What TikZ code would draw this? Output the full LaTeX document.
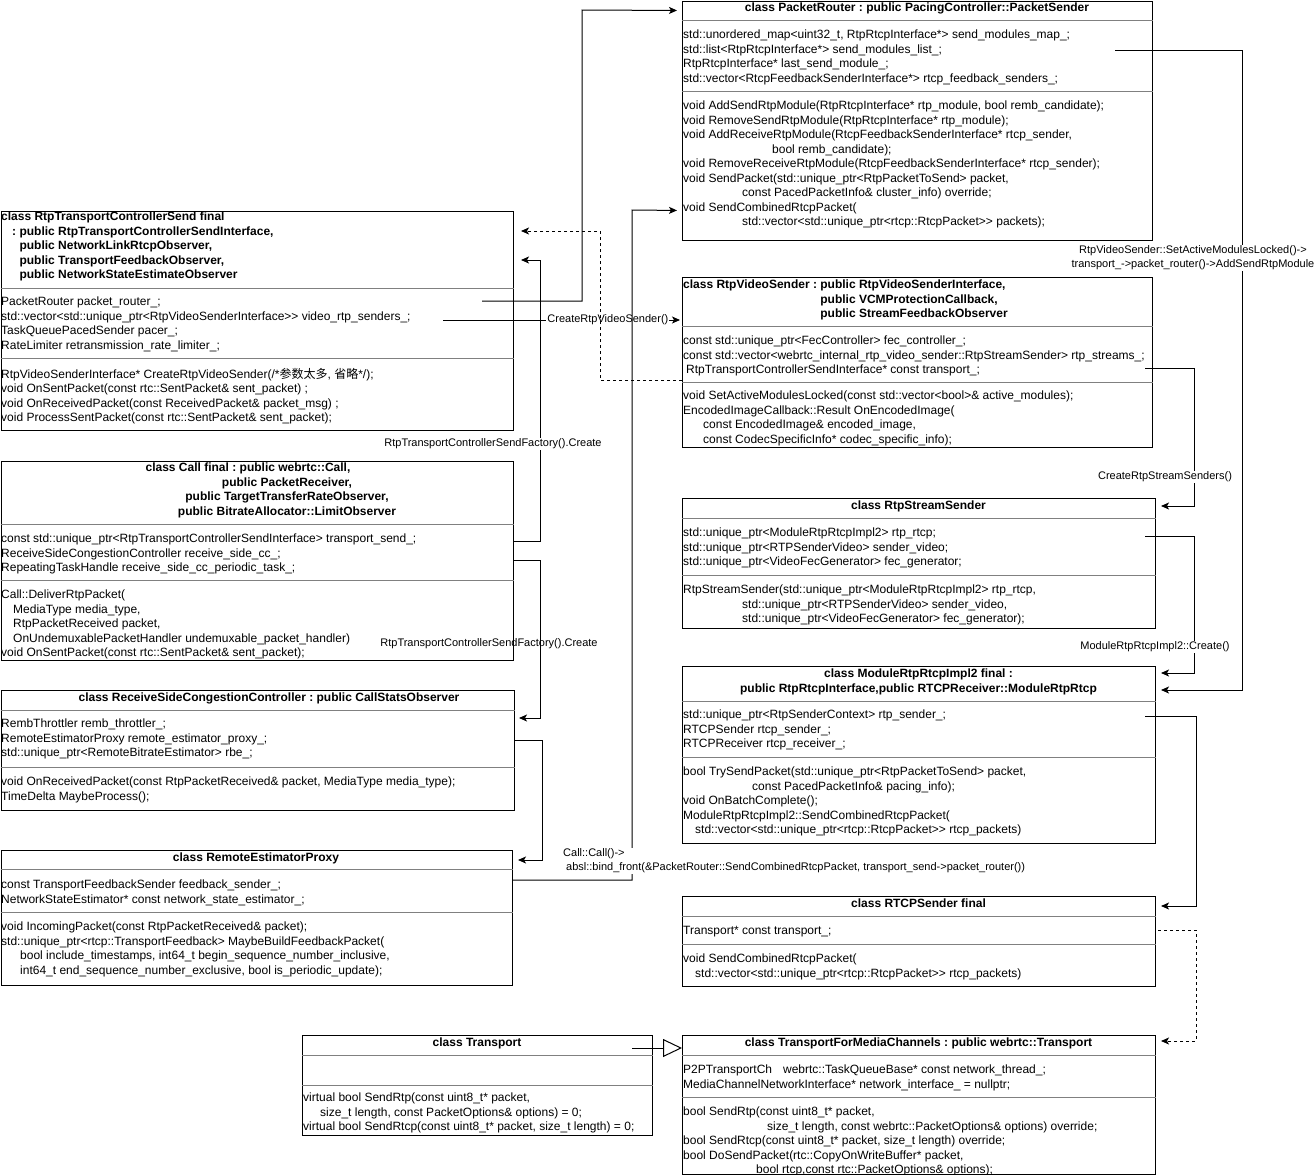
\documentclass[tikz,border=0pt]{standalone}
\usepackage{fontspec}
\setmainfont{Liberation Sans}
\newfontfamily\cjk{Noto Sans CJK SC}
\usetikzlibrary{arrows.meta,calc}
\frenchspacing
\newcommand{\gtgt}{>\kern0pt>}
\tikzset{
  classbox/.style={draw=black,line width=1pt,fill=white,anchor=north west,inner sep=0pt},
  sepline/.style={draw=black!50,line width=1pt},
  member/.style={anchor=north west,inner sep=0pt,align=left,yshift=-3pt,font=\fontsize{12}{14.5}\selectfont},
  headtext/.style={member,anchor=north,align=center,font=\bfseries\fontsize{12}{14.5}\selectfont},
  headleft/.style={headtext,anchor=north west,align=left},
  assoc/.style={-{Stealth[length=8pt,width=7pt,inset=2pt]},line width=1pt,draw=black,shorten >=5pt},
  assocdash/.style={assoc,dash pattern=on 3pt off 3pt},
  realize/.style={-{Triangle[open,length=19pt,width=18pt]},line width=1pt,draw=black},
  lbl/.style={font=\fontsize{11}{14}\selectfont,inner sep=1pt,align=center},
  lblbg/.style={lbl,fill=white}
}
\begin{document}
\begin{tikzpicture}[x=1pt,y=-1pt]
\fill[white] (0,0) rectangle (1315,1175);
\useasboundingbox (0,0) rectangle (1315,1175);

% left column
\node[classbox,minimum width=512.5pt,minimum height=219pt] (rtcs) at (0.5,211) {};
\draw[sepline] ($(rtcs.north west)+(0,77)$) -- ($(rtcs.north east)+(0,77)$);
\draw[sepline] ($(rtcs.north west)+(0,147)$) -- ($(rtcs.north east)+(0,147)$);
\node[headleft] (rtcsHead) at (1,209) {class RtpTransportControllerSend final\\
  \hspace*{11pt}: public RtpTransportControllerSendInterface,\\
  \hphantom{\hspace*{11pt}: }public NetworkLinkRtcpObserver,\\
  \hphantom{\hspace*{11pt}: }public TransportFeedbackObserver,\\
  \hphantom{\hspace*{11pt}: }public NetworkStateEstimateObserver};
\node[member] (rtcsAttr) at (1,294) {PacketRouter packet\_router\_;\\
  std::vector<std::unique\_ptr<RtpVideoSenderInterface\gtgt{} video\_rtp\_senders\_;\\
  TaskQueuePacedSender pacer\_;\\
  RateLimiter retransmission\_rate\_limiter\_;};
\node[member] (rtcsOps) at (1,365) {RtpVideoSenderInterface* CreateRtpVideoSender(/*{\cjk 参数太多}, {\cjk 省略}*/);\\
  void OnSentPacket(const rtc::SentPacket\& sent\_packet) ;\\
  void OnReceivedPacket(const ReceivedPacket\& packet\_msg) ;\\
  void ProcessSentPacket(const rtc::SentPacket\& sent\_packet);};

\node[classbox,minimum width=512.5pt,minimum height=199pt] (call) at (0.5,461) {};
\draw[sepline] ($(call.north west)+(0,63)$) -- ($(call.north east)+(0,63)$);
\draw[sepline] ($(call.north west)+(0,119)$) -- ($(call.north east)+(0,119)$);
\node[headtext] (callHead) at (287,460) {class Call final : public webrtc::Call,\hspace*{78pt}\\
  public PacketReceiver,\\
  public TargetTransferRateObserver,\\
  public BitrateAllocator::LimitObserver};
\node[member] (callAttr) at (1,531) {const std::unique\_ptr<RtpTransportControllerSendInterface> transport\_send\_;\\
  ReceiveSideCongestionController receive\_side\_cc\_;\\
  RepeatingTaskHandle receive\_side\_cc\_periodic\_task\_;};
\node[member] (callOps) at (1,587) {Call::DeliverRtpPacket(\\
  \hspace*{12pt}MediaType media\_type,\\
  \hspace*{12pt}RtpPacketReceived packet,\\
  \hspace*{12pt}OnUndemuxablePacketHandler undemuxable\_packet\_handler)\\
  void OnSentPacket(const rtc::SentPacket\& sent\_packet);};

\node[classbox,minimum width=513.5pt,minimum height=120pt] (rscc) at (0.5,690) {};
\draw[sepline] ($(rscc.north west)+(0,20)$) -- ($(rscc.north east)+(0,20)$);
\draw[sepline] ($(rscc.north west)+(0,77)$) -- ($(rscc.north east)+(0,77)$);
\node[headtext] (rsccHead) at (269,690) {class ReceiveSideCongestionController : public CallStatsObserver};
\node[member] (rsccAttr) at (1,716) {RembThrottler remb\_throttler\_;\\
  RemoteEstimatorProxy remote\_estimator\_proxy\_;\\
  std::unique\_ptr<RemoteBitrateEstimator> rbe\_;};
\node[member] (rsccOps) at (1,774) {void OnReceivedPacket(const RtpPacketReceived\& packet, MediaType media\_type);\\
  TimeDelta MaybeProcess();};

\node[classbox,minimum width=511.5pt,minimum height=135pt] (rep) at (0.5,850) {};
\draw[sepline] ($(rep.north west)+(0,19)$) -- ($(rep.north east)+(0,19)$);
\draw[sepline] ($(rep.north west)+(0,62)$) -- ($(rep.north east)+(0,62)$);
\node[headtext] (repHead) at (256,850) {class RemoteEstimatorProxy};
\node[member] (repAttr) at (1,877) {const TransportFeedbackSender feedback\_sender\_;\\
  NetworkStateEstimator* const network\_state\_estimator\_;};
\node[member] (repOps) at (1,919) {void IncomingPacket(const RtpPacketReceived\& packet);\\
  std::unique\_ptr<rtcp::TransportFeedback> MaybeBuildFeedbackPacket(\\
  \hspace*{19pt}bool include\_timestamps, int64\_t begin\_sequence\_number\_inclusive,\\
  \hspace*{19pt}int64\_t end\_sequence\_number\_exclusive, bool is\_periodic\_update);};

\node[classbox,minimum width=350pt,minimum height=100pt] (tr) at (302,1035) {};
\draw[sepline] ($(tr.north west)+(0,20)$) -- ($(tr.north east)+(0,20)$);
\draw[sepline] ($(tr.north west)+(0,50)$) -- ($(tr.north east)+(0,50)$);
\node[headtext] (trHeadText) at (477,1035) {class Transport};
\node[member] (trOps) at (303,1090) {virtual bool SendRtp(const uint8\_t* packet,\\
  \hspace*{17pt}size\_t length, const PacketOptions\& options) = 0;\\
  virtual bool SendRtcp(const uint8\_t* packet, size\_t length) = 0;};

% right column
\node[classbox,minimum width=470pt,minimum height=239.5pt] (pr) at (682,0.5) {};
\draw[sepline] ($(pr.north west)+(0,19.5)$) -- ($(pr.north east)+(0,19.5)$);
\draw[sepline] ($(pr.north west)+(0,90.5)$) -- ($(pr.north east)+(0,90.5)$);
\node[headtext] (prHead) at (917,0) {class PacketRouter : public PacingController::PacketSender};
\node[member] (prAttr) at (683,27) {std::unordered\_map<uint32\_t, RtpRtcpInterface*> send\_modules\_map\_;\\
  std::list<RtpRtcpInterface*> send\_modules\_list\_;\\
  RtpRtcpInterface* last\_send\_module\_;\\
  std::vector<RtcpFeedbackSenderInterface*> rtcp\_feedback\_senders\_;};
\node[member] (prOps) at (683,98) {void AddSendRtpModule(RtpRtcpInterface* rtp\_module, bool remb\_candidate);\\
  void RemoveSendRtpModule(RtpRtcpInterface* rtp\_module);\\
  void AddReceiveRtpModule(RtcpFeedbackSenderInterface* rtcp\_sender,\\
  \hspace*{89pt}bool remb\_candidate);\\
  void RemoveReceiveRtpModule(RtcpFeedbackSenderInterface* rtcp\_sender);\\
  void SendPacket(std::unique\_ptr<RtpPacketToSend> packet,\\
  \hspace*{59pt}const PacedPacketInfo\& cluster\_info) override;\\
  void SendCombinedRtcpPacket(\\
  \hspace*{59pt}std::vector<std::unique\_ptr<rtcp::RtcpPacket\gtgt{} packets);};

\node[classbox,minimum width=470pt,minimum height=170pt] (rvs) at (682,277) {};
\draw[sepline] ($(rvs.north west)+(0,49)$) -- ($(rvs.north east)+(0,49)$);
\draw[sepline] ($(rvs.north west)+(0,105)$) -- ($(rvs.north east)+(0,105)$);
\node[headleft] (rvsHead) at (683,277) {class RtpVideoSender : public RtpVideoSenderInterface,\\
  \hphantom{class RtpVideoSender : }public VCMProtectionCallback,\\
  \hphantom{class RtpVideoSender : }public StreamFeedbackObserver};
\node[member] (rvsAttr) at (683,333) {const std::unique\_ptr<FecController> fec\_controller\_;\\
  const std::vector<webrtc\_internal\_rtp\_video\_sender::RtpStreamSender> rtp\_streams\_;\\
  \hspace*{3pt}RtpTransportControllerSendInterface* const transport\_;};
\node[member] (rvsOps) at (683,388) {void SetActiveModulesLocked(const std::vector<bool>\& active\_modules);\\
  EncodedImageCallback::Result OnEncodedImage(\\
  \hspace*{20pt}const EncodedImage\& encoded\_image,\\
  \hspace*{20pt}const CodecSpecificInfo* codec\_specific\_info);};

\node[classbox,minimum width=473pt,minimum height=130pt] (rss) at (682,498) {};
\draw[sepline] ($(rss.north west)+(0,20)$) -- ($(rss.north east)+(0,20)$);
\draw[sepline] ($(rss.north west)+(0,77)$) -- ($(rss.north east)+(0,77)$);
\node[headtext] (rssHead) at (918.5,498) {class RtpStreamSender};
\node[member] (rssAttr) at (683,525) {std::unique\_ptr<ModuleRtpRtcpImpl2> rtp\_rtcp;\\
  std::unique\_ptr<RTPSenderVideo> sender\_video;\\
  std::unique\_ptr<VideoFecGenerator> fec\_generator;};
\node[member] (rssOps) at (683,582) {RtpStreamSender(std::unique\_ptr<ModuleRtpRtcpImpl2> rtp\_rtcp,\\
  \hspace*{59pt}std::unique\_ptr<RTPSenderVideo> sender\_video,\\
  \hspace*{59pt}std::unique\_ptr<VideoFecGenerator> fec\_generator);};

\node[classbox,minimum width=473pt,minimum height=177pt] (mod) at (682,666) {};
\draw[sepline] ($(mod.north west)+(0,35)$) -- ($(mod.north east)+(0,35)$);
\draw[sepline] ($(mod.north west)+(0,91)$) -- ($(mod.north east)+(0,91)$);
\node[headtext] (modHead) at (918.5,666) {class ModuleRtpRtcpImpl2 final :\\
  public RtpRtcpInterface,public RTCPReceiver::ModuleRtpRtcp};
\node[member] (modAttr) at (683,707) {std::unique\_ptr<RtpSenderContext> rtp\_sender\_;\\
  RTCPSender rtcp\_sender\_;\\
  RTCPReceiver rtcp\_receiver\_;};
\node[member] (modOps) at (683,764) {bool TrySendPacket(std::unique\_ptr<RtpPacketToSend> packet,\\
  \hspace*{69pt}const PacedPacketInfo\& pacing\_info);\\
  void OnBatchComplete();\\
  ModuleRtpRtcpImpl2::SendCombinedRtcpPacket(\\
  \hspace*{12pt}std::vector<std::unique\_ptr<rtcp::RtcpPacket\gtgt{} rtcp\_packets)};

\node[classbox,minimum width=473pt,minimum height=90pt] (rtcpsnd) at (682,896) {};
\draw[sepline] ($(rtcpsnd.north west)+(0,20)$) -- ($(rtcpsnd.north east)+(0,20)$);
\draw[sepline] ($(rtcpsnd.north west)+(0,48)$) -- ($(rtcpsnd.north east)+(0,48)$);
\node[headtext] (rtcpsndHead) at (918.5,896) {class RTCPSender final};
\node[member] (rtcpsndAttr) at (683,923) {Transport* const transport\_;};
\node[member] (rtcpsndOps) at (683,951) {void SendCombinedRtcpPacket(\\
  \hspace*{12pt}std::vector<std::unique\_ptr<rtcp::RtcpPacket\gtgt{} rtcp\_packets)};

\node[classbox,minimum width=473pt,minimum height=139pt] (tfmc) at (682,1035) {};
\draw[sepline] ($(tfmc.north west)+(0,20)$) -- ($(tfmc.north east)+(0,20)$);
\draw[sepline] ($(tfmc.north west)+(0,62)$) -- ($(tfmc.north east)+(0,62)$);
\node[headtext] (tfmcHead) at (918.5,1035) {class TransportForMediaChannels : public webrtc::Transport};
\node[member] (tfmcAttr) at (683,1062) {P2PTransportCh\hspace*{11pt}webrtc::TaskQueueBase* const network\_thread\_;\\
  MediaChannelNetworkInterface* network\_interface\_ = nullptr;};
\node[member] (tfmcOps) at (683,1104) {bool SendRtp(const uint8\_t* packet,\\
  \hspace*{84pt}size\_t length, const webrtc::PacketOptions\& options) override;\\
  bool SendRtcp(const uint8\_t* packet, size\_t length) override;\\
  bool DoSendPacket(rtc::CopyOnWriteBuffer* packet,\\
  \hspace*{73pt}bool rtcp,const rtc::PacketOptions\& options);};

% connectors
\coordinate (rtcsRouter) at (482,301);
\coordinate (rtcsSenders) at (443,320);
\coordinate (prList) at (1115,50);
\coordinate (rvsStreams) at (1145,368);
\coordinate (rssRtcp) at (1145,536);
\coordinate (modSender) at (1145,716);
\coordinate (rtcpTransport) at (1158,930);
\coordinate (trHead) at (632,1048);

\draw[assoc] (rtcsRouter) -| (582,10) -- ($(pr.north west)+(0,10)$);
\draw[assoc,shorten >=2pt] (rtcsSenders) -- (rtcsSenders -| rvs.west) node[lblbg,pos=0.69] (lblVideo) {CreateRtpVideoSender()};
\draw[assocdash,shorten >=7pt] ($(rvs.north west)+(0,103)$) -| (600,231) -- ($(rtcs.north east)+(0,20)$);
\draw[assoc,shorten >=7pt] ($(call.north east)+(0,80)$) -| (540,260) -- ($(rtcs.north east)+(0,49)$);
\draw[assoc,shorten >=4pt] ($(call.north east)+(0,99)$) -| (540,718) -- ($(rscc.north east)+(0,28)$);
\draw[assoc] ($(rscc.north east)+(0,50)$) -| (542,860) -- ($(rep.north east)+(0,10)$);
\draw[assoc] ($(rep.north east)+(0,30)$) -| (632,210) -- ($(pr.north west)+(0,210)$);
\draw[assoc] (prList) -| (1242,690) -- ($(mod.north east)+(0,24)$);
\draw[assoc] (rvsStreams) -| (1194,506) -- ($(rss.north east)+(0,8)$);
\draw[assoc] (rssRtcp) -| (1194,673) -- ($(mod.north east)+(0,7)$);
\draw[assoc] (modSender) -| (1196,906) -- ($(rtcpsnd.north east)+(0,10)$);
\draw[assocdash] (rtcpTransport) -| (1196,1041) -- ($(tfmc.north east)+(0,6)$);
\draw[realize] (trHead) -- (trHead -| tfmc.west);

\node[lblbg] (lblFactorySend) at (493,444) {RtpTransportControllerSendFactory().Create};
\node[lbl] (lblFactoryRecv) at (489,644) {RtpTransportControllerSendFactory().Create};
\node[lblbg,align=left,anchor=west] (lblBind) at (562,861) {Call::Call()->\\
  \hspace*{3pt}absl::bind\_front(\&PacketRouter::SendCombinedRtcpPacket, transport\_send->packet\_router())};
\node[lblbg] (lblAddModule) at (1193,258) {RtpVideoSender::SetActiveModulesLocked()->\\
  transport\_->packet\_router()->AddSendRtpModule};
\node[lblbg] (lblStreams) at (1165,477) {CreateRtpStreamSenders()};
\node[lblbg] (lblModule) at (1155,647) {ModuleRtpRtcpImpl2::Create()};
\end{tikzpicture}
\end{document}
